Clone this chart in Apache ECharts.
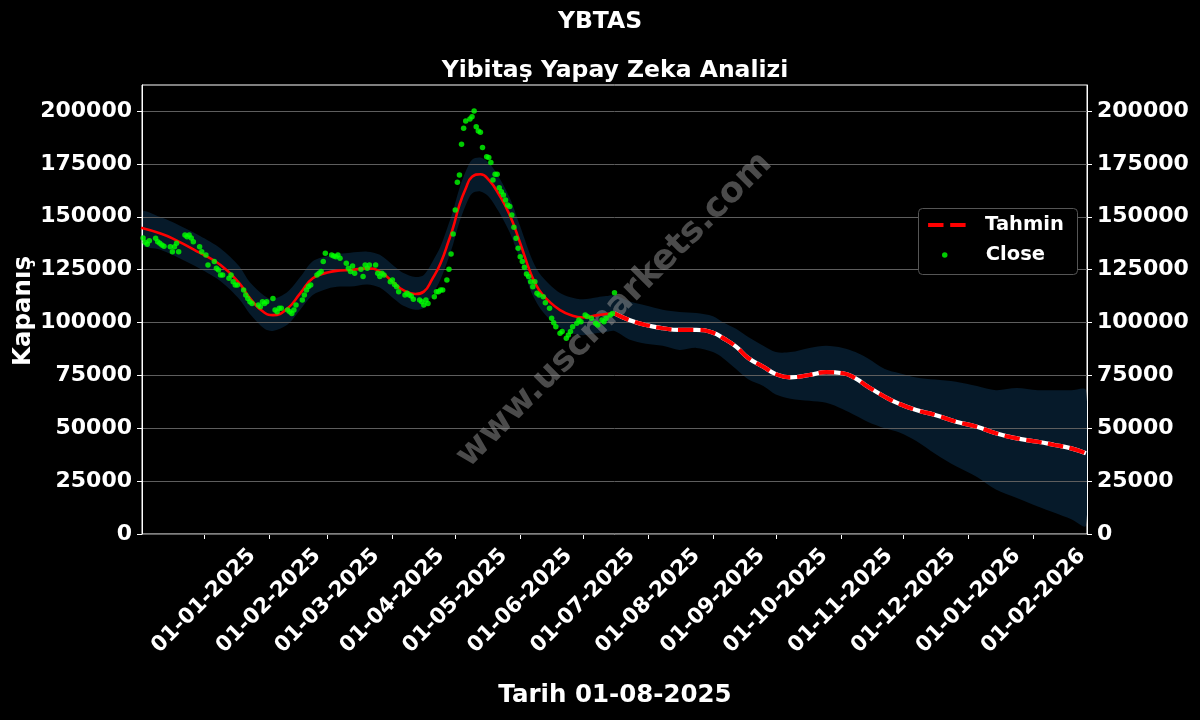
<!DOCTYPE html>
<html>
<head>
<meta charset="utf-8">
<script src="https://cdn.jsdelivr.net/npm/echarts@6/dist/echarts.min.js"></script>
<style>html,body{margin:0;padding:0;background:#000}#c{width:1200px;height:720px}</style>
</head>
<body>
<div id="c"></div>
<script>
const closeDates = ['2024-12-02','2024-12-03','2024-12-04','2024-12-05','2024-12-06','2024-12-09','2024-12-10','2024-12-11','2024-12-12','2024-12-13','2024-12-16','2024-12-17','2024-12-18','2024-12-19','2024-12-20','2024-12-23','2024-12-24','2024-12-25','2024-12-26','2024-12-27','2024-12-30','2024-12-31',
'2025-01-02','2025-01-03','2025-01-06','2025-01-07','2025-01-08','2025-01-09','2025-01-10','2025-01-13','2025-01-14','2025-01-15','2025-01-16','2025-01-17','2025-01-20','2025-01-21','2025-01-22','2025-01-23','2025-01-24','2025-01-27','2025-01-28','2025-01-29','2025-01-30','2025-01-31',
'2025-02-03','2025-02-04','2025-02-05','2025-02-06','2025-02-07','2025-02-10','2025-02-11','2025-02-12','2025-02-13','2025-02-14','2025-02-17','2025-02-18','2025-02-19','2025-02-20','2025-02-21','2025-02-24','2025-02-25','2025-02-26','2025-02-27','2025-02-28',
'2025-03-03','2025-03-04','2025-03-05','2025-03-06','2025-03-07','2025-03-10','2025-03-11','2025-03-12','2025-03-13','2025-03-14','2025-03-17','2025-03-18','2025-03-19','2025-03-20','2025-03-21','2025-03-24','2025-03-25','2025-03-26','2025-03-27','2025-03-28','2025-03-31',
'2025-04-01','2025-04-02','2025-04-03','2025-04-04','2025-04-07','2025-04-08','2025-04-09','2025-04-10','2025-04-11','2025-04-14','2025-04-15','2025-04-16','2025-04-17','2025-04-18','2025-04-21','2025-04-22','2025-04-23','2025-04-24','2025-04-25','2025-04-27','2025-04-28','2025-04-29','2025-04-30',
'2025-05-01','2025-05-02','2025-05-03','2025-05-04','2025-05-05','2025-05-06','2025-05-08','2025-05-09','2025-05-10','2025-05-11','2025-05-12','2025-05-13','2025-05-14','2025-05-16','2025-05-17','2025-05-18','2025-05-19','2025-05-20','2025-05-21','2025-05-22','2025-05-23','2025-05-24','2025-05-25','2025-05-26','2025-05-27','2025-05-28','2025-05-29','2025-05-30','2025-05-31',
'2025-06-01','2025-06-02','2025-06-03','2025-06-04','2025-06-05','2025-06-06','2025-06-07','2025-06-08','2025-06-09','2025-06-10','2025-06-12','2025-06-13','2025-06-15','2025-06-16','2025-06-17','2025-06-18','2025-06-20','2025-06-21','2025-06-23','2025-06-24','2025-06-25','2025-06-26','2025-06-28','2025-06-29','2025-06-30',
'2025-07-02','2025-07-03','2025-07-05','2025-07-07','2025-07-08','2025-07-10','2025-07-11','2025-07-12','2025-07-14','2025-07-15','2025-07-16'];
const closeValues = [145600,140000,138000,137000,138700,139800,138200,137500,136600,136000,135800,133500,135800,137500,133500,141400,140600,141400,140000,138200,135800,133500,
131900,127200,128800,125600,124800,122500,122500,120900,122500,119300,117700,117700,115400,113000,111400,109800,109000,108300,107500,109800,109000,109800,
111400,105900,105100,106700,106700,105900,105100,104300,105900,108300,110600,113000,115400,117000,117700,122500,123300,124100,128800,132700,
131900,131400,131100,131900,130400,128000,125600,124100,126700,123300,125200,121700,127200,125600,127200,127200,123300,121700,123300,122500,119300,
120100,118000,116900,114500,113000,113800,113000,112500,111000,110600,109800,108300,110600,109000,112200,114600,114600,115400,115400,120100,125200,132400,141800,
153200,166300,169700,184300,191800,195300,196200,197300,200000,192600,190500,189900,182800,178400,178000,175700,167400,170100,170100,163700,161800,160300,157900,155600,154800,150800,145000,139800,135100,
131100,128800,126100,122900,121700,119300,116900,119300,113800,113000,112200,109400,106700,102000,99900,98000,94900,95700,92500,94100,95700,98000,99600,101200,100400,
103500,102800,102000,99600,98800,101200,100400,102000,103500,104300,114100];

const fitDates = ['2024-12-02','2024-12-11','2024-12-17','2024-12-30','2025-01-09','2025-01-18','2025-01-23','2025-01-30','2025-02-03','2025-02-10','2025-02-16','2025-02-22','2025-03-01','2025-03-07','2025-03-12','2025-03-20','2025-03-26','2025-04-02','2025-04-06','2025-04-12','2025-04-16','2025-04-20','2025-04-24','2025-04-28','2025-04-30','2025-05-03','2025-05-06','2025-05-09','2025-05-13','2025-05-17','2025-05-22','2025-05-27','2025-06-01','2025-06-06','2025-06-10','2025-06-15','2025-06-20','2025-06-25','2025-07-01','2025-07-08','2025-07-12','2025-07-16'];
const fitValues = [144800,142200,139800,133000,127200,118500,111500,104600,103500,106700,113800,120900,123600,124600,124800,125600,124100,118500,115400,113500,114600,120500,128000,139000,145000,155600,163400,168900,170100,167400,160300,150800,137500,123300,115400,109800,105900,103500,102400,103500,104000,104300];

const forecastDates = ['2025-07-16','2025-07-23','2025-07-31','2025-08-08','2025-08-16','2025-08-24','2025-09-01','2025-09-06','2025-09-12','2025-09-18','2025-09-25','2025-10-01','2025-10-08','2025-10-17','2025-10-25','2025-11-02','2025-11-08','2025-11-14','2025-11-22','2025-11-29','2025-12-07','2025-12-16','2025-12-26','2026-01-05','2026-01-14','2026-01-24','2026-02-03','2026-02-11','2026-02-19','2026-02-26'];
const forecastValues = [104300,101200,98800,97300,96500,96500,95200,92500,88600,83100,79100,75600,74100,75200,76500,76000,73600,69600,64900,61500,58600,56300,53100,50700,47600,45200,43600,42100,40500,38200];

const bandDates = ['2024-12-02','2024-12-11','2024-12-17','2024-12-30','2025-01-09','2025-01-18','2025-01-23','2025-01-30','2025-02-03','2025-02-10','2025-02-16','2025-02-22','2025-03-01','2025-03-07','2025-03-12','2025-03-20','2025-03-26','2025-04-02','2025-04-06','2025-04-12','2025-04-16','2025-04-20','2025-04-24','2025-04-28','2025-04-30','2025-05-03','2025-05-06','2025-05-09','2025-05-13','2025-05-17','2025-05-22','2025-05-27','2025-06-01','2025-06-06','2025-06-10','2025-06-15','2025-06-20','2025-06-25','2025-07-01','2025-07-08','2025-07-12','2025-07-16',
'2025-07-23','2025-07-31','2025-08-08','2025-08-16','2025-08-24','2025-09-01','2025-09-06','2025-09-12','2025-09-18','2025-09-25','2025-10-01','2025-10-08','2025-10-17','2025-10-25','2025-11-02','2025-11-08','2025-11-14','2025-11-22','2025-11-29','2025-12-07','2025-12-16','2025-12-26','2026-01-05','2026-01-14','2026-01-24','2026-02-03','2026-02-11','2026-02-19','2026-02-26'];
const bandLower = [137000,134500,132000,125500,119500,111000,104000,97000,96000,99000,106000,113000,116000,117000,117000,118000,116500,111000,108000,106000,107000,113000,120500,131000,137000,147500,155500,161000,162000,159500,152000,142500,129500,115000,107500,101500,97500,95000,94000,95000,95500,96000,
92000,90000,89000,87000,88000,86000,83000,78000,73000,70000,66000,64000,63000,62000,59000,56000,53000,50000,48000,44000,38000,32000,27000,21000,17000,13000,10000,7000,4000];
const bandUpper = [152500,150000,147500,141000,135000,126500,119000,112500,111000,114500,121500,129000,131500,132500,133000,133500,132000,126500,123500,121500,122500,128500,136000,147000,153000,163500,171500,177000,178000,175500,168500,159000,145500,131500,123500,118000,114000,112000,111000,112000,112500,113000,
110000,108000,106000,105000,104500,103000,100000,97000,93000,89000,86000,86000,88000,89000,88000,86000,83000,78000,76000,74000,73000,72000,70000,68000,69000,68000,68000,68000,68000];

const xTickLabels = ['01-01-2025','01-02-2025','01-03-2025','01-04-2025','01-05-2025','01-06-2025','01-07-2025','01-08-2025','01-09-2025','01-10-2025','01-11-2025','01-12-2025','01-01-2026','01-02-2026'];
const yTicks = [0,25000,50000,75000,100000,125000,150000,175000,200000];

const DAY = 86400000;
function isoTime(s){ const p = s.split('-').map(Number); return Date.UTC(p[0], p[1]-1, p[2]); }
function dmyTime(s){ const p = s.split('-').map(Number); return Date.UTC(p[2], p[1]-1, p[0]); }
const xTickTimes = xTickLabels.map(dmyTime);

const FONT = 'DejaVu Sans';
const chart = echarts.init(document.getElementById('c'), null, {renderer:'canvas'});

const xLblStyle = {color:'#fff', fontSize:21.5, fontWeight:'bold', fontFamily:FONT};
const yLblStyle = {color:'#fff', fontSize:22, fontWeight:'bold', fontFamily:FONT, padding:[6,0,0,0]};
const legText = {color:'#fff', fontSize:19.5, fontWeight:'bold', fontFamily:FONT, lineHeight:22};

const option = {
  backgroundColor: '#000',
  animation: false,
  title: [
    {text:'YBTAS', left:'center', top:5, textStyle:{color:'#fff', fontSize:23.5, fontWeight:'bold', fontFamily:FONT}},
    {text:'Yibitaş Yapay Zeka Analizi', left:610, textAlign:'center', top:54, textStyle:{color:'#fff', fontSize:23.5, fontWeight:'bold', fontFamily:FONT}}
  ],
  grid: {left:142, right:113, top:85, bottom:186, show:true, borderColor:'#fff', borderWidth:1, backgroundColor:'transparent'},
  legend: [
    {data:['Tahmin'], orient:'vertical', left:926, top:214, padding:0, itemWidth:38, itemHeight:14,
     itemStyle:{opacity:0},
     lineStyle:{color:'#ff0000', width:4.2, type:[15.4,6.7]},
     textStyle:Object.assign({padding:[0,0,0,14]}, legText), z:10},
    {data:['Close'], orient:'vertical', left:942, top:244, padding:0, itemWidth:38, itemHeight:5.5,
     textStyle:Object.assign({padding:[0,0,0,17]}, legText), z:10}
  ],
  xAxis: {
    type:'value',
    min: isoTime('2024-12-02') + 0.5*DAY,
    max: isoTime('2026-02-26') + 0.5*DAY,
    axisLine:{show:true, lineStyle:{color:'#fff', width:1}},
    axisTick:{show:true, length:5, lineStyle:{color:'#fff'}, customValues: xTickTimes},
    axisLabel:Object.assign({
      customValues: xTickTimes,
      rotate:45, align:'center', verticalAlign:'middle', margin:67,
      formatter: function(v){ const i = xTickTimes.indexOf(v); return i >= 0 ? xTickLabels[i] : ''; }
    }, xLblStyle),
    splitLine:{show:false}
  },
  yAxis: [
    {type:'value', position:'left', min:0, max:212300, interval:25000, z:1.2,
     axisLine:{show:true, lineStyle:{color:'#fff'}},
     axisTick:{show:true, length:5, lineStyle:{color:'#fff'}, customValues:yTicks},
     axisLabel:Object.assign({customValues:yTicks, margin:10, formatter:function(v){return String(v);}}, yLblStyle),
     splitLine:{show:true, lineStyle:{color:'#5e5e5e', width:1}}},
    {type:'value', position:'right', min:0, max:212300, interval:25000,
     axisLine:{show:true, lineStyle:{color:'#fff'}},
     axisTick:{show:true, length:5, lineStyle:{color:'#fff'}, customValues:yTicks},
     axisLabel:Object.assign({customValues:yTicks, margin:10, formatter:function(v){return String(v);}}, yLblStyle),
     splitLine:{show:false}}
  ],
  graphic: [
    {type:'text', x:614.5, y:310, rotation:Math.PI/4, z:1.5, silent:true,
     style:{text:'www.uscmarkets.com', fill:'rgba(150,150,150,0.5)', font:'bold 35px "DejaVu Sans"', textAlign:'center', textVerticalAlign:'middle'}},
    {type:'text', x:24, y:311, rotation:Math.PI/2,
     style:{text:'Kapanış', fill:'#fff', font:'bold 24.5px "DejaVu Sans"', textAlign:'center', textVerticalAlign:'middle'}},
    {type:'text', x:615, y:696,
     style:{text:'Tarih 01-08-2025', fill:'#fff', font:'bold 24.5px "DejaVu Sans"', textAlign:'center', textVerticalAlign:'middle'}},
    {type:'rect', z:5, shape:{x:918.5, y:208.5, width:159, height:66, r:4},
     style:{fill:'#000', stroke:'#555', lineWidth:1}}
  ],
  series: [
    {name:'band', type:'custom', z:1, silent:true, clip:true,
     data: [[isoTime(bandDates[0]), bandLower[0]]],
     renderItem: function(params, api){
       const pts = [];
       for (let i = 0; i < bandDates.length; i++) pts.push(api.coord([isoTime(bandDates[i]), bandUpper[i]]));
       for (let i = bandDates.length - 1; i >= 0; i--) pts.push(api.coord([isoTime(bandDates[i]), bandLower[i]]));
       return {type:'polygon', shape:{points:pts, smooth:0.3}, style:{fill:'#061a2a'}};
     }},
    {name:'fit', type:'line', smooth:true, symbol:'none', z:3,
     lineStyle:{color:'#ff0000', width:2.6}, data: fitDates.map((d,i)=>[isoTime(d), fitValues[i]])},
    {name:'Close', type:'scatter', symbol:'circle', symbolSize:5.5, z:4,
     itemStyle:{color:'#00ff00'}, data: closeDates.map((d,i)=>[isoTime(d), closeValues[i]])},
    {name:'forecastBase', type:'line', smooth:true, symbol:'none', z:4,
     lineStyle:{color:'#ffffff', width:4.2}, data: forecastDates.map((d,i)=>[isoTime(d), forecastValues[i]])},
    {name:'Tahmin', type:'line', smooth:true, symbol:'none', z:4,
     itemStyle:{color:'#ff0000'},
     lineStyle:{color:'#ff0000', width:4.2, type:[15.4,6.7]}, data: forecastDates.map((d,i)=>[isoTime(d), forecastValues[i]])}
  ]
};
chart.setOption(option);
</script>
</body>
</html>
